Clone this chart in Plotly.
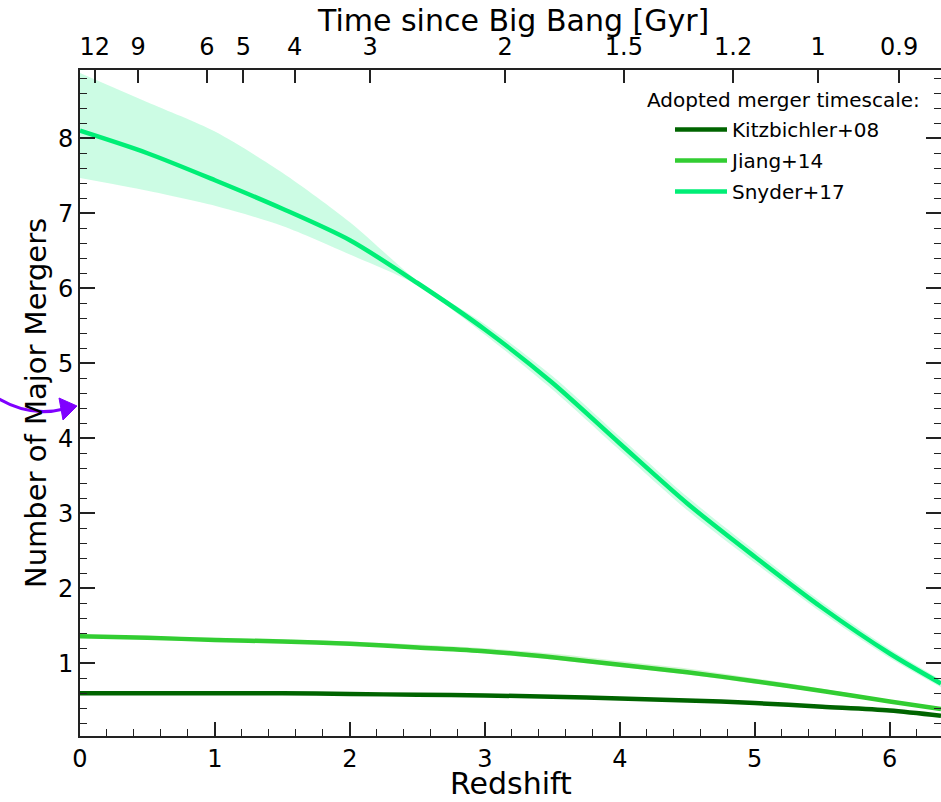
import plotly.graph_objects as go

# ---------------- data ----------------
redshift = [0.0, 0.5, 1.0, 1.5, 2.0, 2.5, 3.0, 3.5, 4.0, 4.5, 5.0, 5.5, 6.0, 6.38]

snyder    = [8.10, 7.80, 7.44, 7.06, 6.64, 6.07, 5.45, 4.74, 3.93, 3.13, 2.42, 1.74, 1.13, 0.73]
snyder_hi = [8.87, 8.48, 8.09, 7.54, 6.88, 6.10, 5.52, 4.83, 4.02, 3.22, 2.50, 1.81, 1.19, 0.78]
snyder_lo = [7.47, 7.30, 7.10, 6.83, 6.45, 6.04, 5.38, 4.65, 3.84, 3.04, 2.34, 1.67, 1.07, 0.68]

jiang    = [1.36, 1.34, 1.31, 1.29, 1.26, 1.21, 1.16, 1.08, 0.98, 0.88, 0.76, 0.63, 0.49, 0.39]
jiang_hi = [1.38, 1.36, 1.34, 1.32, 1.29, 1.25, 1.20, 1.13, 1.03, 0.93, 0.80, 0.66, 0.51, 0.40]
jiang_lo = [1.34, 1.32, 1.29, 1.27, 1.24, 1.19, 1.13, 1.05, 0.95, 0.85, 0.73, 0.61, 0.47, 0.38]

kitz    = [0.60, 0.60, 0.60, 0.60, 0.59, 0.58, 0.57, 0.555, 0.53, 0.505, 0.47, 0.42, 0.37, 0.30]
kitz_hi = [0.615, 0.615, 0.615, 0.615, 0.605, 0.595, 0.585, 0.57, 0.545, 0.52, 0.485, 0.435, 0.385, 0.31]
kitz_lo = [0.585, 0.585, 0.585, 0.585, 0.575, 0.565, 0.555, 0.54, 0.515, 0.49, 0.455, 0.405, 0.355, 0.29]

# top axis: time since Big Bang (Gyr) at redshift positions
time_labels = ["12", "9", "6", "5", "4", "3", "2", "1.5", "1.2", "1", "0.9"]
time_z      = [0.11, 0.43, 0.94, 1.21, 1.59, 2.15, 3.15, 4.03, 4.84, 5.47, 6.07]

series = [
    ("Kitzbichler+08", kitz, kitz_hi, kitz_lo, "#006400", "rgba(0,100,0,0.2)"),
    ("Jiang+14", jiang, jiang_hi, jiang_lo, "#32CD32", "rgba(50,205,50,0.2)"),
    ("Snyder+17", snyder, snyder_hi, snyder_lo, "#00EE76", "rgba(0,238,118,0.2)"),
]

FONT = "DejaVu Sans"
fig = go.Figure()

for name, y, hi, lo, col, band in series:
    fig.add_trace(go.Scatter(x=redshift, y=hi, mode="lines",
                             line=dict(width=0, shape="spline", smoothing=0.8),
                             showlegend=False, hoverinfo="skip"))
    fig.add_trace(go.Scatter(x=redshift, y=lo, mode="lines",
                             line=dict(width=0, shape="spline", smoothing=0.8),
                             fill="tonexty", fillcolor=band, showlegend=False, hoverinfo="skip"))
for name, y, hi, lo, col, band in series:
    fig.add_trace(go.Scatter(x=redshift, y=y, mode="lines", name=name, legendgroup=name,
                             line=dict(color=col, width=4.5, shape="spline", smoothing=0.8)))

fig.add_trace(go.Scatter(x=[redshift[0], redshift[-1]], y=[jiang[0], jiang[-1]], xaxis="x2",
                         mode="markers", marker=dict(opacity=0), showlegend=False, hoverinfo="skip"))

axis_col = "#222222"
fig.update_layout(
    width=941, height=802,
    margin=dict(l=80, r=0, t=70, b=66),
    paper_bgcolor="white", plot_bgcolor="white",
    font=dict(family=FONT, size=24, color="black"),
    xaxis=dict(range=[0, 6.38], showgrid=False, zeroline=False, automargin=False,
               showline=True, linecolor=axis_col, linewidth=2, mirror=True,
               ticks="inside", ticklen=14, tickwidth=1.5, tickcolor=axis_col,
               dtick=1, tick0=0,
               minor=dict(dtick=0.2, tick0=0, ticks="inside", ticklen=7, tickwidth=1.2, tickcolor=axis_col),
               tickfont=dict(size=24)),
    xaxis2=dict(overlaying="x", side="top", range=[0, 6.38], showgrid=False, zeroline=False,
                automargin=False,
                tickmode="array", tickvals=time_z, ticktext=time_labels,
                ticks="inside", ticklen=13, tickwidth=1.5, tickcolor=axis_col,
                ticklabelstandoff=9,
                tickfont=dict(size=24)),
    yaxis=dict(range=[0.03, 8.91], showgrid=False, zeroline=False, automargin=False,
               showline=True, linecolor=axis_col, linewidth=2, mirror="ticks",
               ticks="inside", ticklen=15, tickwidth=1.5, tickcolor=axis_col,
               dtick=1, tick0=0,
               minor=dict(dtick=0.2, tick0=0, ticks="inside", ticklen=7, tickwidth=1.2, tickcolor=axis_col),
               tickfont=dict(size=24)),
    legend=dict(x=(670 - 80) / 861, y=(736 - 110) / 666, xanchor="left", yanchor="top",
                bgcolor="rgba(0,0,0,0)", font=dict(size=20), tracegroupgap=2, itemwidth=52),
    showlegend=True,
)

# page pixel -> paper coordinates (plot area spans x 80..941, y 70..736)
def px(xp):
    return (xp - 80) / 861
def py(yp):
    return (736 - yp) / 666

fig.add_annotation(text="Time since Big Bang [Gyr]", xref="paper", yref="paper",
                   x=px(513), y=py(20), xanchor="center", yanchor="middle",
                   showarrow=False, font=dict(size=30, family=FONT))
fig.add_annotation(text="Redshift", xref="paper", yref="paper",
                   x=px(511), y=py(783), xanchor="center", yanchor="middle",
                   showarrow=False, font=dict(size=30, family=FONT))
fig.add_annotation(text="Number of Major Mergers", xref="paper", yref="paper",
                   x=px(36), y=py(403), xanchor="center", yanchor="middle", textangle=-90,
                   showarrow=False, font=dict(size=29, family=FONT))

fig.add_annotation(text="Adopted merger timescale:", xref="paper", yref="paper",
                   x=px(922), y=py(100), xanchor="right", yanchor="middle",
                   showarrow=False, font=dict(size=20, family=FONT))

violet = "#7F00FF"
fig.add_shape(type="path", xref="paper", yref="paper",
              path=f"M {px(-10)},{py(393)} C {px(15)},{py(411)} {px(40)},{py(415)} {px(64)},{py(409)}",
              line=dict(color=violet, width=3))
fig.add_shape(type="path", xref="paper", yref="paper",
              path=f"M {px(77)},{py(406)} L {px(59)},{py(398)} L {px(63)},{py(420)} Z",
              fillcolor=violet, line=dict(color=violet, width=1))

fig.write_html("out.html",
               config={"displayModeBar": False},
               post_script="document.body.style.margin='0px';document.body.style.overflow='hidden';")
